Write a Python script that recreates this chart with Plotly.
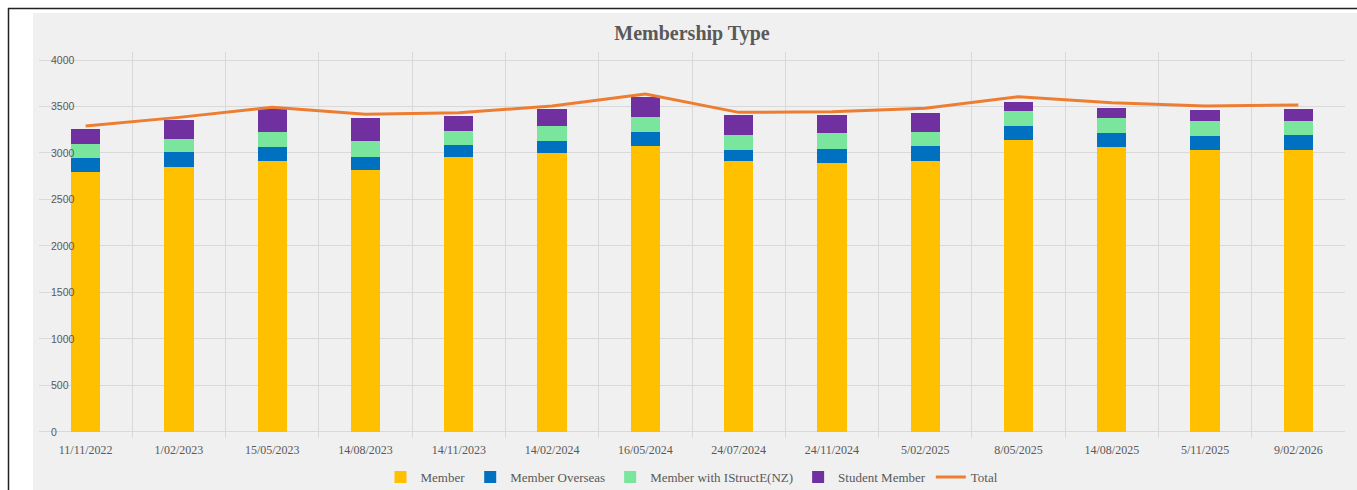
import plotly.graph_objects as go

# Snapshot dates (category axis)
dates = ["11/11/2022", "1/02/2023", "15/05/2023", "14/08/2023", "14/11/2023",
         "14/02/2024", "16/05/2024", "24/07/2024", "24/11/2024", "5/02/2025",
         "8/05/2025", "14/08/2025", "5/11/2025", "9/02/2026"]

# Membership counts per type
member = [2796, 2849, 2910, 2814, 2954, 2996, 3079, 2910, 2889, 2910, 3136, 3061, 3029, 3029]
member_overseas = [147, 158, 158, 147, 136, 136, 150, 126, 158, 162, 154, 158, 157, 168]
member_istructe = [150, 147, 154, 164, 150, 162, 158, 161, 164, 157, 162, 157, 162, 151]
student_member = [168, 204, 248, 251, 161, 179, 211, 212, 201, 205, 96, 108, 114, 125]
total = [3290, 3383, 3491, 3416, 3433, 3505, 3634, 3437, 3444, 3480, 3606, 3541, 3505, 3516]

y_ticks = [0, 500, 1000, 1500, 2000, 2500, 3000, 3500, 4000]

W, H = 1357, 490
# value axis is padded a little past 0 and 4000 so the edge labels stay visible
Y_LO, Y_HI = -65, 4086
ML, MR, MT, MB = 39, 12, 52, 52
PW, PH = W - ML - MR, H - MT - MB


def px_x(x):
    return (x - ML) / PW


def px_y(y):
    return (H - MB - y) / PH


SERIF = "Liberation Serif"
TXT = "#595959"

fig = go.Figure()
series = [
    ("Member", member, "#FFC000"),
    ("Member Overseas", member_overseas, "#0070C0"),
    ("Member with IStructE(NZ)", member_istructe, "#7AE59D"),
    ("Student Member", student_member, "#7030A0"),
]
for name, vals, col in series:
    fig.add_trace(go.Bar(x=dates, y=vals, name=name, marker_color=col,
                         marker_line_width=0))

fig.add_trace(go.Scatter(x=dates, y=total, name="Total", mode="lines",
                         line=dict(color="#ED7D31", width=3)))

shapes = [
    # chart area background
    dict(type="rect", xref="paper", yref="paper", layer="below",
         x0=px_x(33), x1=px_x(W + 5), y0=px_y(13), y1=px_y(H + 5),
         fillcolor="#F0F0F0", line_width=0),
    # frame edges
    dict(type="line", xref="paper", yref="paper", layer="above",
         x0=px_x(8), x1=px_x(W + 5), y0=px_y(8.5), y1=px_y(8.5),
         line=dict(color="#222222", width=1.5)),
    dict(type="line", xref="paper", yref="paper", layer="above",
         x0=px_x(8.5), x1=px_x(8.5), y0=px_y(8), y1=px_y(H + 5),
         line=dict(color="#222222", width=1.5)),
]

fig.update_layout(
    width=W, height=H,
    margin=dict(l=ML, r=MR, t=MT, b=MB, pad=0, autoexpand=False),
    paper_bgcolor="white",
    plot_bgcolor="rgba(0,0,0,0)",
    barmode="stack",
    bargap=0.685,
    shapes=shapes,
    title=dict(text="<b>Membership Type</b>", x=692 / W, xref="container",
               xanchor="center", y=1 - 33 / H, yref="container",
               yanchor="middle",
               font=dict(family=SERIF, size=20, color=TXT)),
    legend=dict(orientation="h", x=692 / W, xref="container",
                xanchor="center", y=1 - 477 / H, yref="container",
                yanchor="middle", bgcolor="rgba(0,0,0,0)",
                font=dict(family=SERIF, size=13, color=TXT),
                traceorder="normal", itemwidth=30),
    showlegend=True,
)

fig.update_xaxes(type="category", range=[-0.5, len(dates) - 0.5],
                 tickson="boundaries", showgrid=True,
                 gridcolor="#D9D9D9", gridwidth=1, automargin=False,
                 ticks="", showline=False, ticklabelstandoff=3,
                 tickfont=dict(family=SERIF, size=12, color=TXT))

fig.update_yaxes(range=[Y_LO, Y_HI], tickvals=y_ticks, showgrid=True,
                 gridcolor="#D9D9D9", gridwidth=1, zeroline=False,
                 automargin=False,
                 ticklabelposition="inside", ticklabelstandoff=9,
                 tickfont=dict(family="Liberation Sans", size=10.5, color=TXT))

fig.write_html("out.html")
